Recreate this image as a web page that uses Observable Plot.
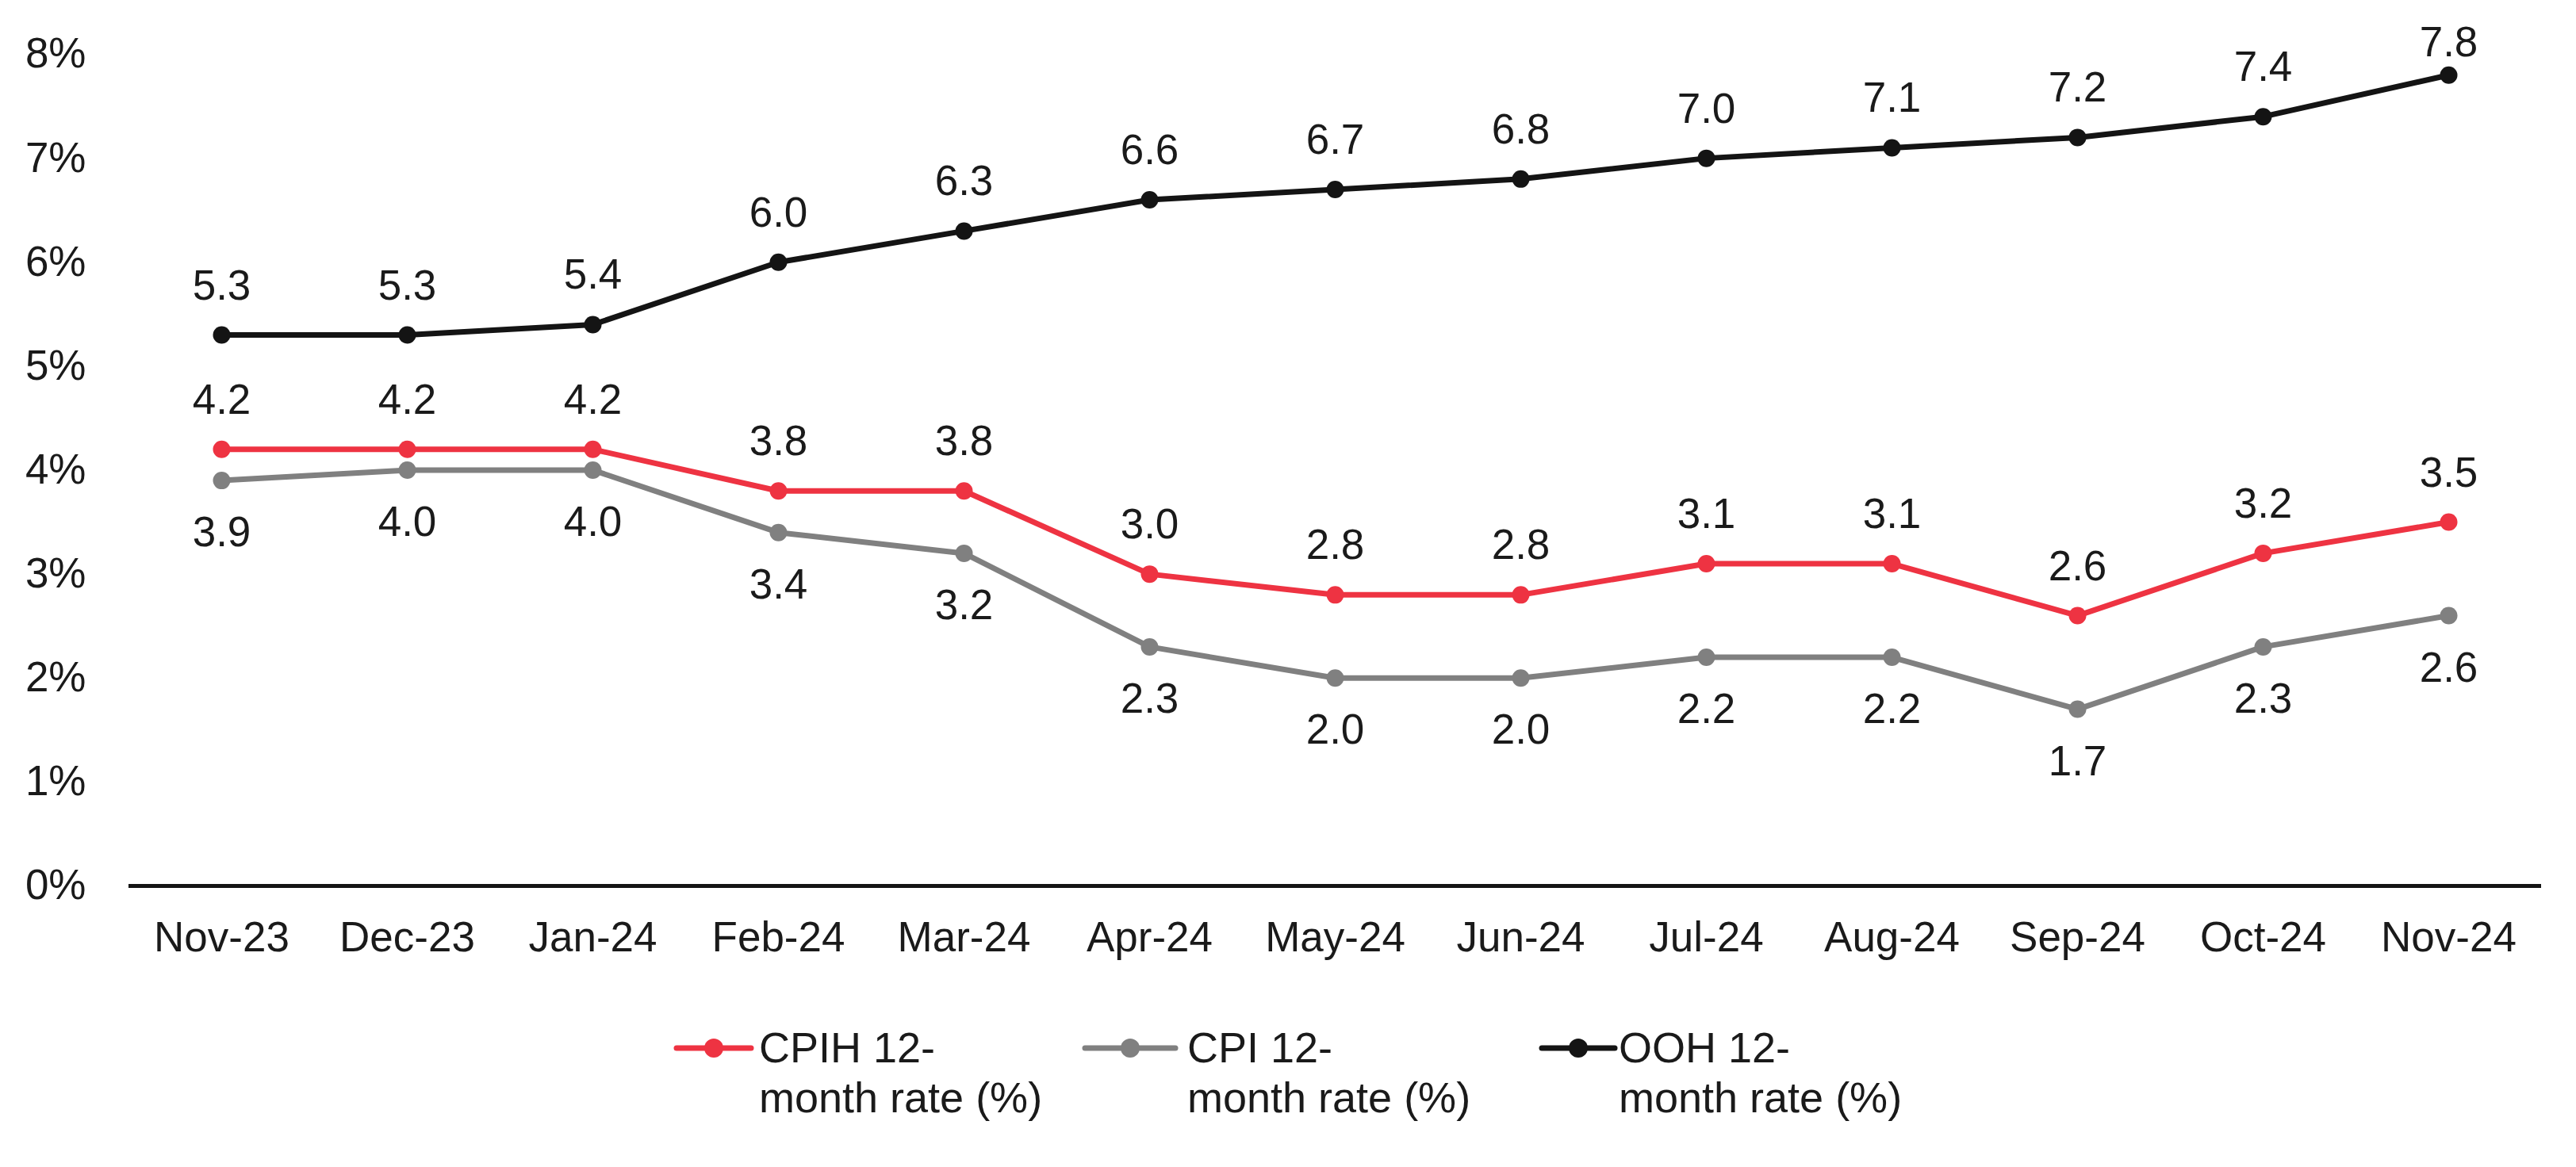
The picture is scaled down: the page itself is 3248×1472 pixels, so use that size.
<!DOCTYPE html>
<html>
<head>
<meta charset="utf-8">
<script src="https://cdn.jsdelivr.net/npm/d3@7"></script>
<script src="https://cdn.jsdelivr.net/npm/@observablehq/plot@0.6"></script>
<style>
  html, body { margin: 0; padding: 0; background: #fff; }
  body { width: 3248px; height: 1472px; position: relative; overflow: hidden; font-family: "Liberation Sans", Arial, sans-serif; color: #1a1a1a; }
  #legend { position: absolute; left: 0; top: 0; width: 3248px; height: 1472px; pointer-events: none; }
  .item { position: absolute; font-size: 54px; line-height: 63px; }
</style>
</head>
<body>
<div id="chart"></div>
<div id="legend"></div>
<script>
const months = ["Nov-23","Dec-23","Jan-24","Feb-24","Mar-24","Apr-24","May-24","Jun-24","Jul-24","Aug-24","Sep-24","Oct-24","Nov-24"];
const cpih = [4.2,4.2,4.2,3.8,3.8,3.0,2.8,2.8,3.1,3.1,2.6,3.2,3.5];
const cpi  = [3.9,4.0,4.0,3.4,3.2,2.3,2.0,2.0,2.2,2.2,1.7,2.3,2.6];
const ooh  = [5.3,5.3,5.4,6.0,6.3,6.6,6.7,6.8,7.0,7.1,7.2,7.4,7.8];
const yTicks = [0,1,2,3,4,5,6,7,8];
const seriesNames = ["CPIH 12-month rate (%)","CPI 12-month rate (%)","OOH 12-month rate (%)"];
const colors = ["#ee3342","#808080","#141414"];

const rows = (vals, name) => months.map((m, i) => ({month: m, value: vals[i], series: name, i}));
const dCPIH = rows(cpih, seriesNames[0]);
const dCPI = rows(cpi, seriesNames[1]);
const dOOH = rows(ooh, seriesNames[2]);
const last = months.length - 1;

const W = 3248, H = 1240;
const fmt = d => d.value.toFixed(1);
const chart = Plot.plot({
  width: W,
  height: H,
  marginLeft: 162,
  marginRight: 44,
  marginTop: 68,
  marginBottom: H - 1117,
  style: {fontFamily: "Liberation Sans, Arial, sans-serif", fontSize: "53px", color: "#1a1a1a", background: "#fff"},
  x: {type: "point", domain: months, padding: 0.5, label: null, tickSize: 0, tickPadding: 45},
  y: {domain: [0, 8], ticks: yTicks, tickFormat: d => d + "%", label: null, tickSize: 0, tickPadding: 54},
  color: {domain: seriesNames, range: colors},
  marks: [
    Plot.ruleY([0], {stroke: "#141414", strokeWidth: 5}),
    Plot.line(dCPI, {x: "month", y: "value", stroke: colors[1], strokeWidth: 7}),
    Plot.line(dCPIH, {x: "month", y: "value", stroke: colors[0], strokeWidth: 7}),
    Plot.line(dOOH, {x: "month", y: "value", stroke: colors[2], strokeWidth: 7}),
    Plot.dot(dCPI, {x: "month", y: "value", fill: colors[1], r: 11}),
    Plot.dot(dCPIH, {x: "month", y: "value", fill: colors[0], r: 11}),
    Plot.dot(dOOH, {x: "month", y: "value", fill: colors[2], r: 11}),
    Plot.text(dOOH, {filter: d => d.i !== last, x: "month", y: "value", text: fmt, dy: -62, fill: "#1a1a1a", fontSize: 53}),
    Plot.text(dOOH, {filter: d => d.i === last, x: "month", y: "value", text: fmt, dy: -41, fill: "#1a1a1a", fontSize: 53}),
    Plot.text(dCPIH, {x: "month", y: "value", text: fmt, dy: -62, fill: "#1a1a1a", fontSize: 53}),
    Plot.text(dCPI, {x: "month", y: "value", text: fmt, dy: 66, fill: "#1a1a1a", fontSize: 53})
  ]
});
document.getElementById("chart").appendChild(chart);

// Legend (HTML, below the SVG)
const legend = document.getElementById("legend");
const legendLeft = [853, 1368, 1944];
const textLeft = [957, 1497, 2041];
const swW = [94, 114, 92];
seriesNames.forEach((name, i) => {
  const item = document.createElement("div");
  item.className = "item";
  item.style.left = textLeft[i] + "px";
  item.style.top = (1322 - 32) + "px";
  const parts = name.split("12-");
  item.innerHTML = parts[0] + "12-<br>" + parts[1];
  legend.appendChild(item);
  const sw = document.createElementNS("http://www.w3.org/2000/svg", "svg");
  sw.setAttribute("width", swW[i] + 8);
  sw.setAttribute("height", 30);
  sw.style.position = "absolute";
  sw.style.left = (legendLeft[i] - 4) + "px";
  sw.style.top = (1322 - 15) + "px";
  sw.innerHTML = `<line x1="4" x2="${swW[i] + 4}" y1="15" y2="15" stroke="${colors[i]}" stroke-width="7" stroke-linecap="round"/><circle cx="${swW[i]/2 + 4}" cy="15" r="12" fill="${colors[i]}"/>`;
  legend.appendChild(sw);
});
</script>
</body>
</html>
